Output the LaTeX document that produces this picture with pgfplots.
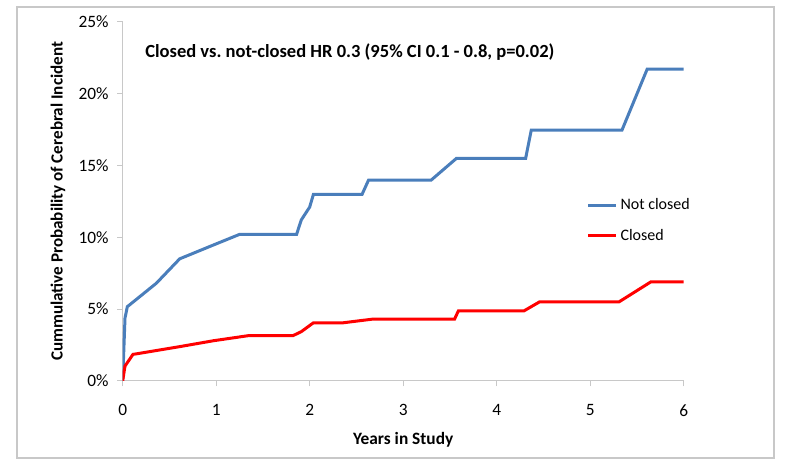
\documentclass[border=0pt]{standalone}
\usepackage{pgfplots}
\pgfplotsset{compat=1.18}
\usepackage{fontspec}
\setmainfont{Carlito}
\definecolor{xlblue}{RGB}{74,126,187}
\definecolor{xlgrid}{RGB}{200,200,200}
\begin{document}
\begin{tikzpicture}
\path[use as bounding box] (-92pt,-69pt) rectangle (508pt,285.75pt);
\draw[xlgrid, line width=1.1pt] (-79.3pt,-57.75pt) rectangle (488.5pt,280.5pt);
\begin{axis}[
  scale only axis,
  width=420.75pt, height=269.5pt,
  at={(0,0)}, anchor=south west,
  xmin=0, xmax=6, ymin=0, ymax=25,
  xtick={0,1,...,6}, ytick={0,5,...,25},
  yticklabel={\pgfmathprintnumber{\tick}\%},
  /pgf/number format/assume math mode=true,
  axis lines*=left,
  axis line style={xlgrid, line width=0.75pt, -},
  tick style={xlgrid, line width=0.75pt},
  tick align=outside,
  major tick length=4pt,
  tick label style={font=\fontsize{13}{15}\selectfont, black},
  xticklabel style={yshift=-10pt},
  yticklabel style={xshift=-3pt},
  xlabel={\textbf{Years in Study}},
  ylabel={\textbf{Cummulative Probability of Cerebral Incident}},
  xlabel style={at={(axis description cs:0.5,-0.164)}, anchor=center, font=\fontsize{13}{15}\selectfont},
  ylabel style={at={(axis description cs:-0.1153,0.5)}, anchor=center, font=\fontsize{12.8}{15}\selectfont},
  legend style={at={(rel axis cs:0.827,0.515)}, anchor=north west, draw=none, fill=none,
    font=\fontsize{12}{14}\selectfont, row sep=9pt, inner sep=0pt, nodes={inner sep=2pt}},
  legend cell align=left,
  legend image code/.code={\draw[#1, line width=2.25pt] (0pt,0pt) -- (21pt,0pt);},
]
\addplot[xlblue, line width=2.25pt] coordinates {
  (0,0) (0.025,4.38) (0.05,5.17) (0.36,6.8) (0.61,8.5) (0.97,9.46) (1.25,10.2)
  (1.86,10.2) (1.91,11.2) (2.0,12.1) (2.04,12.98) (2.56,12.98) (2.63,13.98)
  (3.30,13.98) (3.57,15.49) (4.31,15.49) (4.37,17.45) (5.34,17.45) (5.61,21.7) (6,21.7)
};
\addlegendentry{Not closed}
\addplot[red, line width=2.25pt] coordinates {
  (0,0) (0.025,1.04) (0.11,1.85) (0.61,2.39) (0.97,2.8) (1.34,3.15) (1.82,3.15)
  (1.91,3.43) (2.04,4.05) (2.36,4.05) (2.68,4.31) (3.55,4.31) (3.59,4.87)
  (4.29,4.87) (4.46,5.51) (5.31,5.51) (5.65,6.9) (6,6.9)
};
\addlegendentry{Closed}
\node[font=\bfseries\fontsize{13.9}{16}\selectfont] at (rel axis cs:0.405,0.9165)
  {Closed vs.\ not-closed HR 0.3 (95\% CI 0.1 - 0.8, p=0.02)};
\end{axis}
\end{tikzpicture}
\end{document}
